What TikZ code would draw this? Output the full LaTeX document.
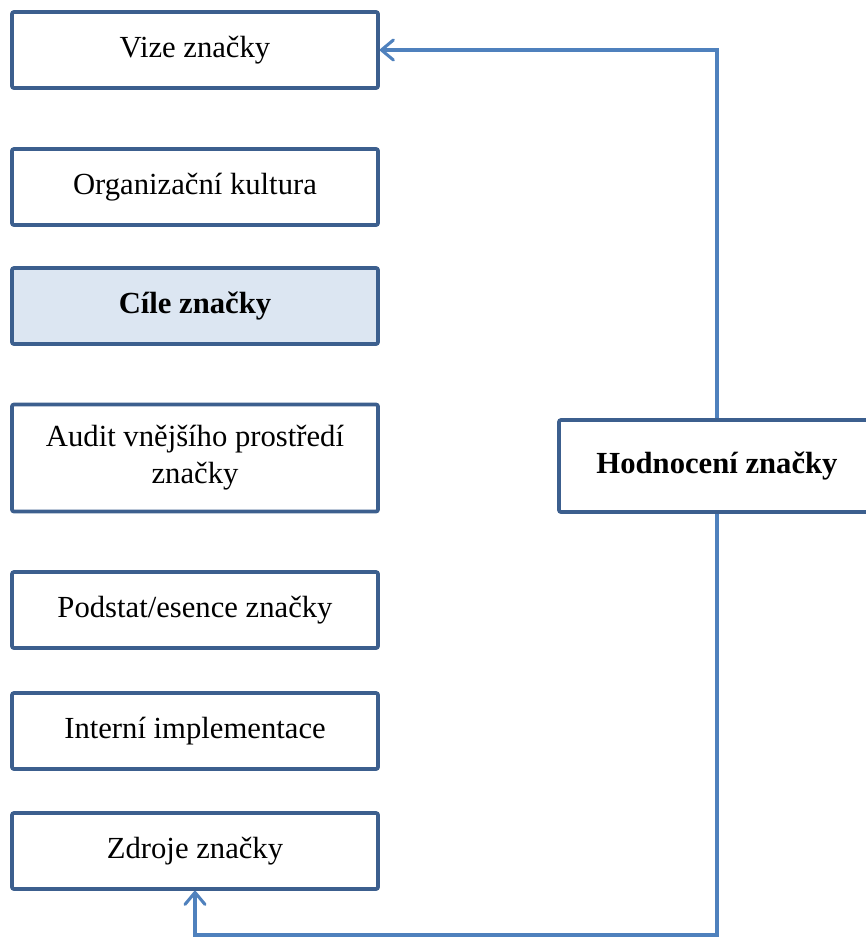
\documentclass[tikz,border=0pt]{standalone}
\usepackage{fontspec}
\setmainfont{Liberation Serif}
\usetikzlibrary{arrows.meta}
\definecolor{boxedge}{HTML}{3C5F8E}
\definecolor{linkblue}{HTML}{4F81BD}
\definecolor{goalfill}{HTML}{DCE6F2}
\begin{document}
\begin{tikzpicture}[x=0.75pt,y=-0.75pt,
  stepbox/.style={draw=boxedge, line width=2.8pt, rounded corners=1.5pt, fill=white,
    minimum width=366*0.75pt, minimum height=76*0.75pt, inner sep=0pt,
    align=center, font=\fontsize{23}{27.6}\selectfont},
  link/.style={draw=linkblue, line width=2.3pt,
    -{Straight Barb[length=9pt,width=15pt,line width=2.3pt,round]}}]
\useasboundingbox (0,0) rectangle (866,939);
\node[stepbox] (vize) at (195,50) {Vize značky};
\node[stepbox] (org) at (195,187) {Organizační kultura};
\node[stepbox, fill=goalfill, font=\fontsize{23}{27.6}\selectfont\bfseries] (cile) at (195,306) {Cíle značky};
\node[stepbox, minimum height=107*0.75pt] (audit) at (195,458) {Audit vnějšího prostředí\\značky};
\node[stepbox] (podstat) at (195,610) {Podstat/esence značky};
\node[stepbox] (interni) at (195,731) {Interní implementace};
\node[stepbox] (zdroje) at (195,851) {Zdroje značky};
\node[stepbox, minimum width=316*0.75pt, minimum height=92*0.75pt, font=\fontsize{23}{27.6}\selectfont\bfseries] (hod) at (717,466) {Hodnocení značky};
\coordinate (bottom) at (0,935);
\draw[link] (hod.north) |- (vize.east);
\draw[link] (hod.south) -- (hod.south |- bottom) -| (zdroje.south);
\end{tikzpicture}
\end{document}
